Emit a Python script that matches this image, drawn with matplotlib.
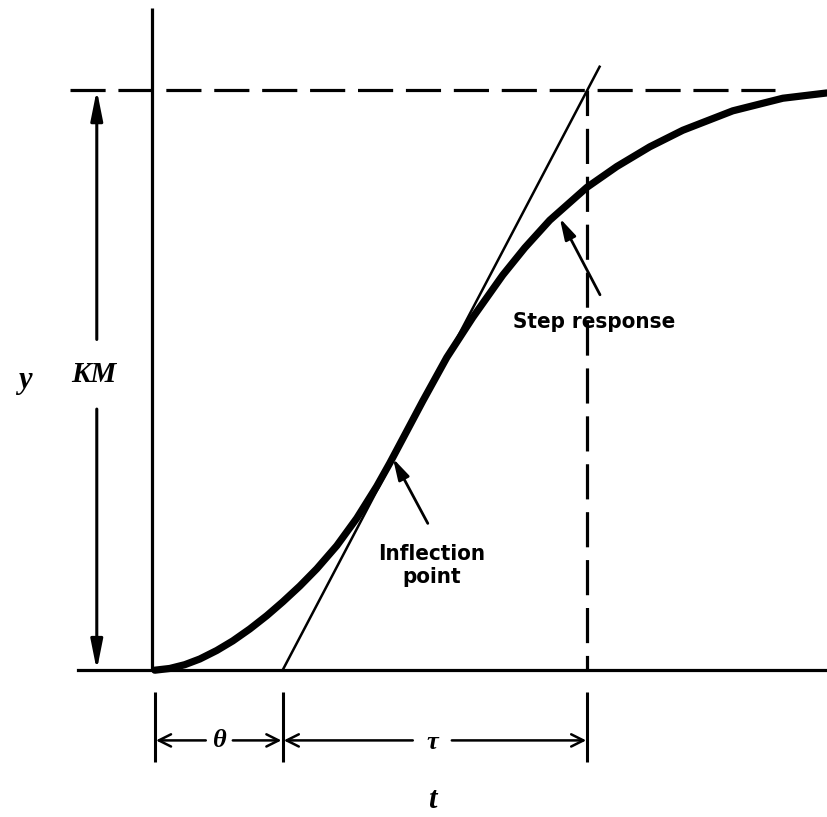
import matplotlib
matplotlib.use('Agg')
import matplotlib.pyplot as plt

# step response: t in arbitrary time units, y as fraction of KM
t_curve = [0.0, 0.25, 0.5, 0.75, 1.033, 1.3, 1.583, 1.867, 2.133, 2.417, 2.7,
           3.033, 3.367, 3.7, 3.917, 4.2, 4.467, 4.867, 5.3, 5.8, 6.167, 6.583,
           7.2, 7.7, 8.25, 8.8, 9.633, 10.467, 11.2]
y_curve = [0.0, 0.003, 0.0095, 0.0193, 0.034, 0.0505, 0.071, 0.094, 0.1178, 0.145, 0.1748,
           0.2145, 0.262, 0.317, 0.357, 0.412, 0.464, 0.539, 0.608, 0.681, 0.728, 0.7755,
           0.832, 0.868, 0.902, 0.9305, 0.964, 0.9857, 0.9948]

KM = 1.0
theta = 2.13   # dead time
tau = 5.08     # time constant
infl = (3.95, 0.37)

sans = ['DejaVu Sans']
serif = ['Liberation Serif', 'DejaVu Serif']

fig = plt.figure(figsize=(8.28, 8.17), dpi=100)
ax = fig.add_axes([0, 0, 1, 1])
ax.set_xlim(-2.58, 11.22)
ax.set_ylim(-0.253, 1.155)
ax.axis('off')

lw_ax = 2.3
dash = (0, (11, 4))

# axes
ax.plot([-0.05, -0.05], [0, 1.141], color='black', lw=lw_ax, solid_capstyle='butt')
ax.plot([-1.28, 11.22], [0, 0], color='black', lw=lw_ax)

# KM level and tau line
ax.plot([-1.42, 10.33], [KM, KM], color='black', lw=lw_ax, linestyle=dash)
t_end = theta + tau
ax.plot([t_end, t_end], [KM, 0.0], color='black', lw=lw_ax, linestyle=(3, (11, 4)))

# response curve
ax.plot(t_curve, y_curve, color='black', lw=5.2, solid_capstyle='round', solid_joinstyle='round')

# tangent at the inflection point
ext = 1.04
ax.plot([theta, theta + tau * ext], [0, KM * ext], color='black', lw=1.8)

# dimension ticks under the time axis
for tx in [0, theta, t_end]:
    ax.plot([tx, tx], [-0.038, -0.159], color='black', lw=2.2, solid_capstyle='butt')

yd = -0.121
aprops = dict(arrowstyle='->', color='black', lw=1.8, mutation_scale=22, shrinkA=0, shrinkB=0)
ax.annotate('', xy=(0.02, yd), xytext=(0.85, yd), arrowprops=aprops)
ax.annotate('', xy=(theta - 0.02, yd), xytext=(1.3, yd), arrowprops=aprops)
ax.text(theta / 2 + 0.02, yd, 'θ', fontsize=19, ha='center', va='center',
        family=serif, fontweight='bold', style='italic')
ax.annotate('', xy=(theta + 0.02, yd), xytext=(4.3, yd), arrowprops=aprops)
ax.annotate('', xy=(t_end - 0.02, yd), xytext=(4.95, yd), arrowprops=aprops)
ax.text(4.62, yd - 0.004, 'τ', fontsize=19, ha='center', va='center',
        family=serif, fontweight='bold', style='italic')

# KM dimension arrow
xk = -0.967
kprops = dict(arrowstyle='-|>,head_length=1.0,head_width=0.2', color='black', lw=2.2,
              mutation_scale=18, shrinkA=0, shrinkB=0)
ax.annotate('', xy=(xk, KM), xytext=(xk, 0.57), arrowprops=kprops)
ax.annotate('', xy=(xk, 0), xytext=(xk, 0.45), arrowprops=kprops)
ax.text(xk - 0.05, 0.509, 'KM', fontsize=21, ha='center', va='center',
        family=serif, fontweight='bold', style='italic')
ax.text(-2.17, 0.5, 'y', fontsize=22, ha='center', va='center',
        family=serif, fontweight='bold', style='italic')
ax.text(4.62, -0.224, 't', fontsize=22, ha='center', va='center',
        family=serif, fontweight='bold', style='italic')

# labels with pointer arrows
pprops = dict(arrowstyle='-|>,head_length=0.8,head_width=0.22', color='black', lw=2.0,
              mutation_scale=16, shrinkA=0, shrinkB=0)
ax.annotate('', xy=(6.75, 0.779), xytext=(7.42, 0.647), arrowprops=pprops)
ax.text(7.33, 0.60, 'Step response', fontsize=16, ha='center', va='center',
        family=sans, fontweight='bold', fontstretch='condensed')
ax.annotate('', xy=(infl[0] + 0.02, infl[1] - 0.005), xytext=(4.55, 0.253), arrowprops=pprops)
ax.text(4.62, 0.18, 'Inflection\npoint', fontsize=16, ha='center', va='center',
        family=sans, fontweight='bold', fontstretch='condensed', linespacing=1.2)

fig.savefig('out.png', dpi=100)
